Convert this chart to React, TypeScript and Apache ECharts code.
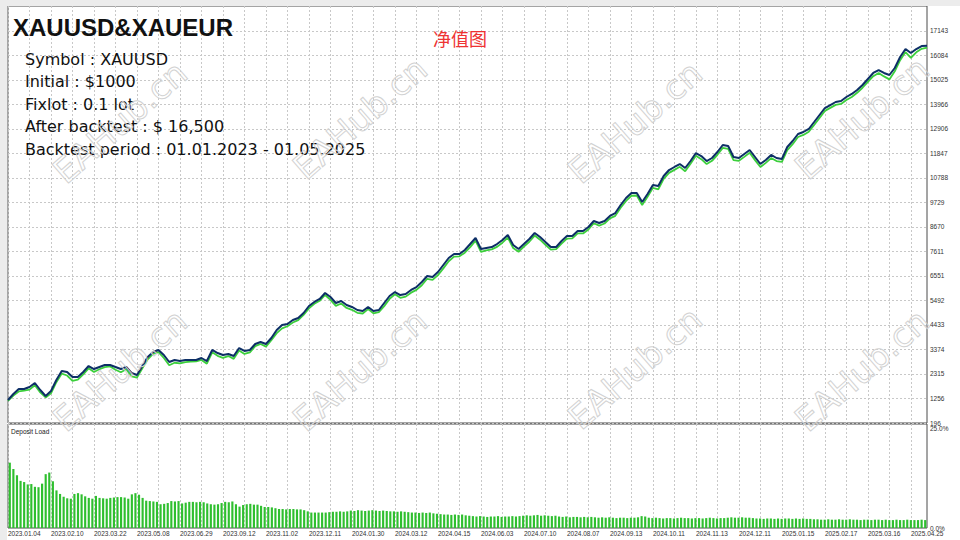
import React, { useEffect, useRef } from "react";
import * as echarts from "echarts";

// x axis labels, one every 8 points of the equity curve
const dates = [
    "2023.01.04", "2023.02.10", "2023.03.22", "2023.05.08", "2023.06.29", "2023.09.12",
    "2023.11.02", "2023.12.11", "2024.01.30", "2024.03.12", "2024.04.15", "2024.06.03",
    "2024.07.10", "2024.08.07", "2024.09.13", "2024.10.11", "2024.11.13", "2024.12.11",
    "2025.01.15", "2025.02.17", "2025.03.16", "2025.04.25",
];

// right axis ticks as printed by the tester
const yTicks = [
    196, 1256, 2315, 3374, 4433, 5492, 6551, 7611, 8670, 9729,
    10788, 11847, 12906, 13966, 15025, 16084, 17143,
];

const balance = [
    1190, 1450, 1666, 1666, 1752, 1925, 1623, 1363, 1579, 2055,
    2444, 2401, 2185, 2185, 2401, 2660, 2530, 2617, 2703, 2703,
    2617, 2530, 2617, 2358, 2271, 2660, 3049, 3265, 3352, 3136,
    2833, 2919, 2876, 2919, 2919, 2919, 3006, 2876, 3352, 3222,
    3136, 3179, 3092, 3438, 3309, 3352, 3611, 3698, 3611, 3871,
    4216, 4433, 4476, 4649, 4735, 4951, 5254, 5427, 5557, 5816,
    5643, 5384, 5470, 5297, 5211, 5081, 5038, 5211, 5038, 5081,
    5384, 5686, 5859, 5729, 5773, 5946, 6075, 6291, 6551, 6508,
    6724, 7026, 7329, 7502, 7502, 7675, 7934, 8194, 7718, 7761,
    7804, 7934, 8107, 8323, 7891, 7718, 7934, 8150, 8410, 8237,
    8020, 7804, 7804, 8064, 8280, 8280, 8496, 8496, 8669, 8928,
    8842, 8928, 9145, 9274, 9620, 9923, 10139, 10139, 9750, 10096,
    10485, 10441, 10874, 11133, 11263, 11392, 11220, 11522, 11868, 11738,
    11522, 11652, 11911, 12214, 12171, 11695, 11652, 11825, 11998, 11695,
    11392, 11565, 11782, 11652, 11609, 12127, 12387, 12689, 12776, 12906,
    13208, 13511, 13813, 13943, 14073, 14116, 14289, 14419, 14592, 14808,
    15067, 15327, 15456, 15327, 15240, 15543, 16018, 16364, 16191, 16364,
    16493, 16500,
];

const equity = [
    1150, 1380, 1560, 1600, 1640, 1830, 1520, 1300, 1480, 1960,
    2330, 2250, 2020, 2070, 2300, 2560, 2400, 2520, 2610, 2640,
    2500, 2390, 2520, 2210, 2160, 2560, 2950, 3180, 3260, 3010,
    2690, 2800, 2770, 2830, 2850, 2860, 2920, 2760, 3250, 3100,
    3010, 3090, 2970, 3330, 3180, 3250, 3520, 3610, 3500, 3780,
    4080, 4290, 4380, 4540, 4640, 4870, 5150, 5350, 5480, 5730,
    5520, 5260, 5360, 5170, 5090, 4960, 4930, 5120, 4940, 4990,
    5250, 5560, 5760, 5610, 5660, 5830, 5950, 6150, 6430, 6380,
    6590, 6880, 7190, 7390, 7400, 7560, 7800, 8080, 7590, 7660,
    7700, 7810, 7990, 8210, 7760, 7600, 7820, 8030, 8300, 8120,
    7900, 7690, 7710, 7950, 8170, 8180, 8390, 8390, 8560, 8830,
    8730, 8820, 9040, 9150, 9500, 9800, 10020, 10030, 9620, 9980,
    10360, 10300, 10750, 11010, 11140, 11270, 11080, 11400, 11750, 11600,
    11390, 11530, 11790, 12090, 12050, 11560, 11530, 11700, 11880, 11560,
    11260, 11440, 11650, 11520, 11480, 11990, 12250, 12560, 12650, 12790,
    13080, 13380, 13690, 13820, 13950, 13990, 14160, 14290, 14470, 14690,
    14940, 15190, 15330, 15180, 15050, 15400, 15880, 16230, 15980, 16220,
    16370, 16420,
];

// deposit load in %
const depositLoad = [
    16.5, 14.9, 13.3, 11.9, 11.6, 11.0, 11.1, 10.4, 10.3, 11.2,
    13.6, 14.0, 11.8, 9.5, 8.6, 7.9, 7.5, 7.4, 8.6, 8.8,
    8.5, 8.0, 7.6, 7.4, 8.1, 7.6, 7.5, 7.4, 7.6, 7.7,
    7.8, 7.8, 7.7, 7.4, 8.5, 8.8, 8.4, 7.6, 6.9, 6.8,
    6.7, 6.6, 6.0, 6.1, 6.3, 6.8, 6.7, 6.8, 6.2, 6.4,
    6.6, 6.6, 6.5, 6.6, 6.5, 6.2, 6.0, 5.9, 6.0, 6.3,
    6.6, 6.5, 6.7, 6.0, 5.4, 5.8, 6.0, 6.1, 5.9, 5.9,
    5.6, 5.3, 5.3, 5.2, 5.0, 4.8, 4.8, 4.7, 4.8, 4.8,
    4.7, 4.7, 4.5, 4.2, 3.9, 3.9, 3.9, 3.9, 3.9, 4.0,
    4.1, 4.1, 4.2, 4.1, 4.2, 4.4, 4.3, 4.5, 4.4, 4.3,
    4.4, 4.5, 4.4, 4.3, 4.4, 4.3, 4.2, 4.2, 4.1, 4.2,
    4.1, 4.0, 3.9, 3.9, 3.8, 3.9, 3.8, 3.9, 3.7, 3.6,
    3.5, 3.4, 3.4, 3.3, 3.4, 3.3, 3.4, 3.2, 3.1, 3.0,
    2.9, 3.0, 2.9, 2.8, 2.9, 2.9, 3.0, 2.8, 2.9, 2.9,
    3.0, 2.9, 3.0, 3.1, 3.2, 3.1, 3.2, 3.3, 3.1, 3.2,
    3.1, 3.0, 3.1, 2.9, 2.8, 2.9, 2.7, 2.8, 2.8, 2.7,
    2.8, 2.7, 2.8, 2.7, 2.6, 2.7, 2.6, 2.7, 2.6, 2.5,
    2.6, 2.6, 2.5, 2.6, 2.6, 2.7, 3.0, 2.9, 2.6, 2.5,
    2.6, 2.5, 2.4, 2.5, 2.5, 2.4, 2.5, 2.6, 2.5, 2.5,
    2.4, 2.5, 2.5, 2.4, 2.5, 2.6, 2.5, 2.4, 2.5, 2.5,
    2.6, 2.7, 2.6, 2.6, 2.7, 2.6, 2.6, 2.5, 2.4, 2.4,
    2.3, 2.4, 2.4, 2.3, 2.4, 2.3, 2.4, 2.4, 2.3, 2.4,
    2.3, 2.4, 2.3, 2.3, 2.2, 2.2, 2.1, 2.1, 2.2, 2.1,
    2.1, 2.2, 2.1, 2.1, 2.2, 2.1, 2.1, 2.0, 2.1, 2.1,
    2.0, 2.1, 2.1, 2.0, 2.1, 2.0, 2.0, 2.1, 2.0, 2.0,
    2.1, 2.0, 2.0, 2.0, 2.1, 2.0,
];

const infoLines = [
    "Symbol : XAUUSD",
    "Initial : $1000",
    "Fixlot : 0.1 lot",
    "After backtest : $ 16,500",
    "Backtest period : 01.01.2023 - 01.05.2025",
];

const marks = [
    [120, 122], [360, 118], [635, 122], [862, 118],
    [120, 370], [360, 370], [635, 368], [862, 370],
];

const AXIS_FONT = "Liberation Sans";
const gridLine = { show: true, lineStyle: { color: "#c8c8c8", type: [2, 2] as number[], width: 1 } };

const App: React.FC = () => {
    const ref = useRef<HTMLDivElement | null>(null);

    useEffect(() => {
        if (!ref.current) return;
        const chart = echarts.init(ref.current, null, { renderer: "svg" });

        const cats = balance.map((_, i) => String(i));
        const barCats = depositLoad.map((_, i) => String(i));

        const graphic: any[] = [
            { type: "rect", shape: { x: 0, y: 0, width: 7, height: 540 }, style: { fill: "#ececec" }, z: 0 },
            { type: "rect", shape: { x: 0, y: 0, width: 960, height: 6 }, style: { fill: "#ececec" }, z: 0 },
            {
                type: "text", x: 13, y: 27, z: 50,
                style: { text: "XAUUSD&XAUEUR", font: `900 24px "${AXIS_FONT}"`, fill: "#111", verticalAlign: "middle" },
            },
            {
                type: "text", x: 460, y: 38, z: 50,
                style: { text: "净值图", font: '18px "Noto Sans CJK SC"', fill: "#ee3333", align: "center", verticalAlign: "middle" },
            },
            {
                type: "text", x: 11, y: 431, z: 50,
                style: { text: "Deposit Load", font: `6.5px "${AXIS_FONT}"`, fill: "#222", verticalAlign: "middle" },
            },
        ];
        infoLines.forEach((t, i) => {
            graphic.push({
                type: "text", x: 25, y: 59 + i * 22.6, z: 50,
                style: { text: t, font: '16px "DejaVu Sans"', fill: "#111", verticalAlign: "middle" },
            });
        });
        marks.forEach(([x, y]) => {
            graphic.push({
                type: "text", x, y, rotation: 0.72, z: 60, silent: true,
                style: {
                    text: "EAHub.cn", font: '34px "DejaVu Sans"', fill: "rgba(255,255,255,0)",
                    stroke: "#d2d2d2", lineWidth: 1, align: "center", verticalAlign: "middle",
                },
            });
        });

        chart.setOption({
            animation: false,
            backgroundColor: "#fff",
            grid: [
                { left: 8, right: 33, top: 6, height: 417, show: true, backgroundColor: "#fff", borderColor: "#4a4a4a", borderWidth: 1 },
                { left: 8, right: 33, top: 424, height: 104, show: true, backgroundColor: "#fff", borderColor: "#4a4a4a", borderWidth: 1 },
            ],
            xAxis: [
                {
                    type: "category", gridIndex: 0, data: cats, boundaryGap: false,
                    axisLine: { show: false }, axisTick: { show: false }, axisLabel: { show: false },
                    splitLine: { ...gridLine, interval: 3 },
                },
                {
                    type: "category", gridIndex: 1, data: cats, boundaryGap: false,
                    axisLine: { show: false }, axisTick: { show: false },
                    axisLabel: {
                        interval: 7, align: "left", margin: 2, fontSize: 6.5, fontFamily: AXIS_FONT, color: "#333",
                        formatter: (_v: string, idx: number) => (idx % 8 === 0 ? dates[idx / 8] ?? "" : ""),
                    },
                    splitLine: { ...gridLine, interval: 3 },
                },
                {
                    type: "category", gridIndex: 1, data: barCats, show: false,
                },
            ],
            yAxis: [
                {
                    type: "value", gridIndex: 0, position: "right", min: 196, max: 18223,
                    axisLine: { show: false },
                    axisTick: { show: false, customValues: yTicks },
                    axisLabel: { customValues: yTicks, margin: 3, fontSize: 6.5, fontFamily: AXIS_FONT, color: "#333", formatter: (v: number) => String(v) },
                    splitLine: gridLine,
                },
                {
                    type: "value", gridIndex: 1, position: "right", min: 0, max: 26.26,
                    axisLine: { show: false },
                    axisTick: { show: false, customValues: [0, 25] },
                    axisLabel: { customValues: [0, 25], margin: 3, fontSize: 6.5, fontFamily: AXIS_FONT, color: "#333", formatter: (v: number) => v.toFixed(1) + "%" },
                    splitLine: { show: false },
                },
            ],
            series: [
                {
                    name: "Equity", type: "line", xAxisIndex: 0, yAxisIndex: 0, data: equity,
                    symbol: "none", lineStyle: { color: "#3ccf3c", width: 1.8 }, z: 3,
                },
                {
                    name: "Balance", type: "line", xAxisIndex: 0, yAxisIndex: 0, data: balance,
                    symbol: "none", lineStyle: { color: "#0d2f66", width: 2 }, z: 4,
                },
                {
                    name: "Deposit Load", type: "bar", xAxisIndex: 2, yAxisIndex: 1, data: depositLoad,
                    barCategoryGap: "40%", itemStyle: { color: "#2fbf2f" },
                },
            ],
            graphic,
        });

        return () => chart.dispose();
    }, []);

    return <div ref={ref} style={{ position: "fixed", left: 0, top: 0, width: 960, height: 540 }} />;
};

export default App;
